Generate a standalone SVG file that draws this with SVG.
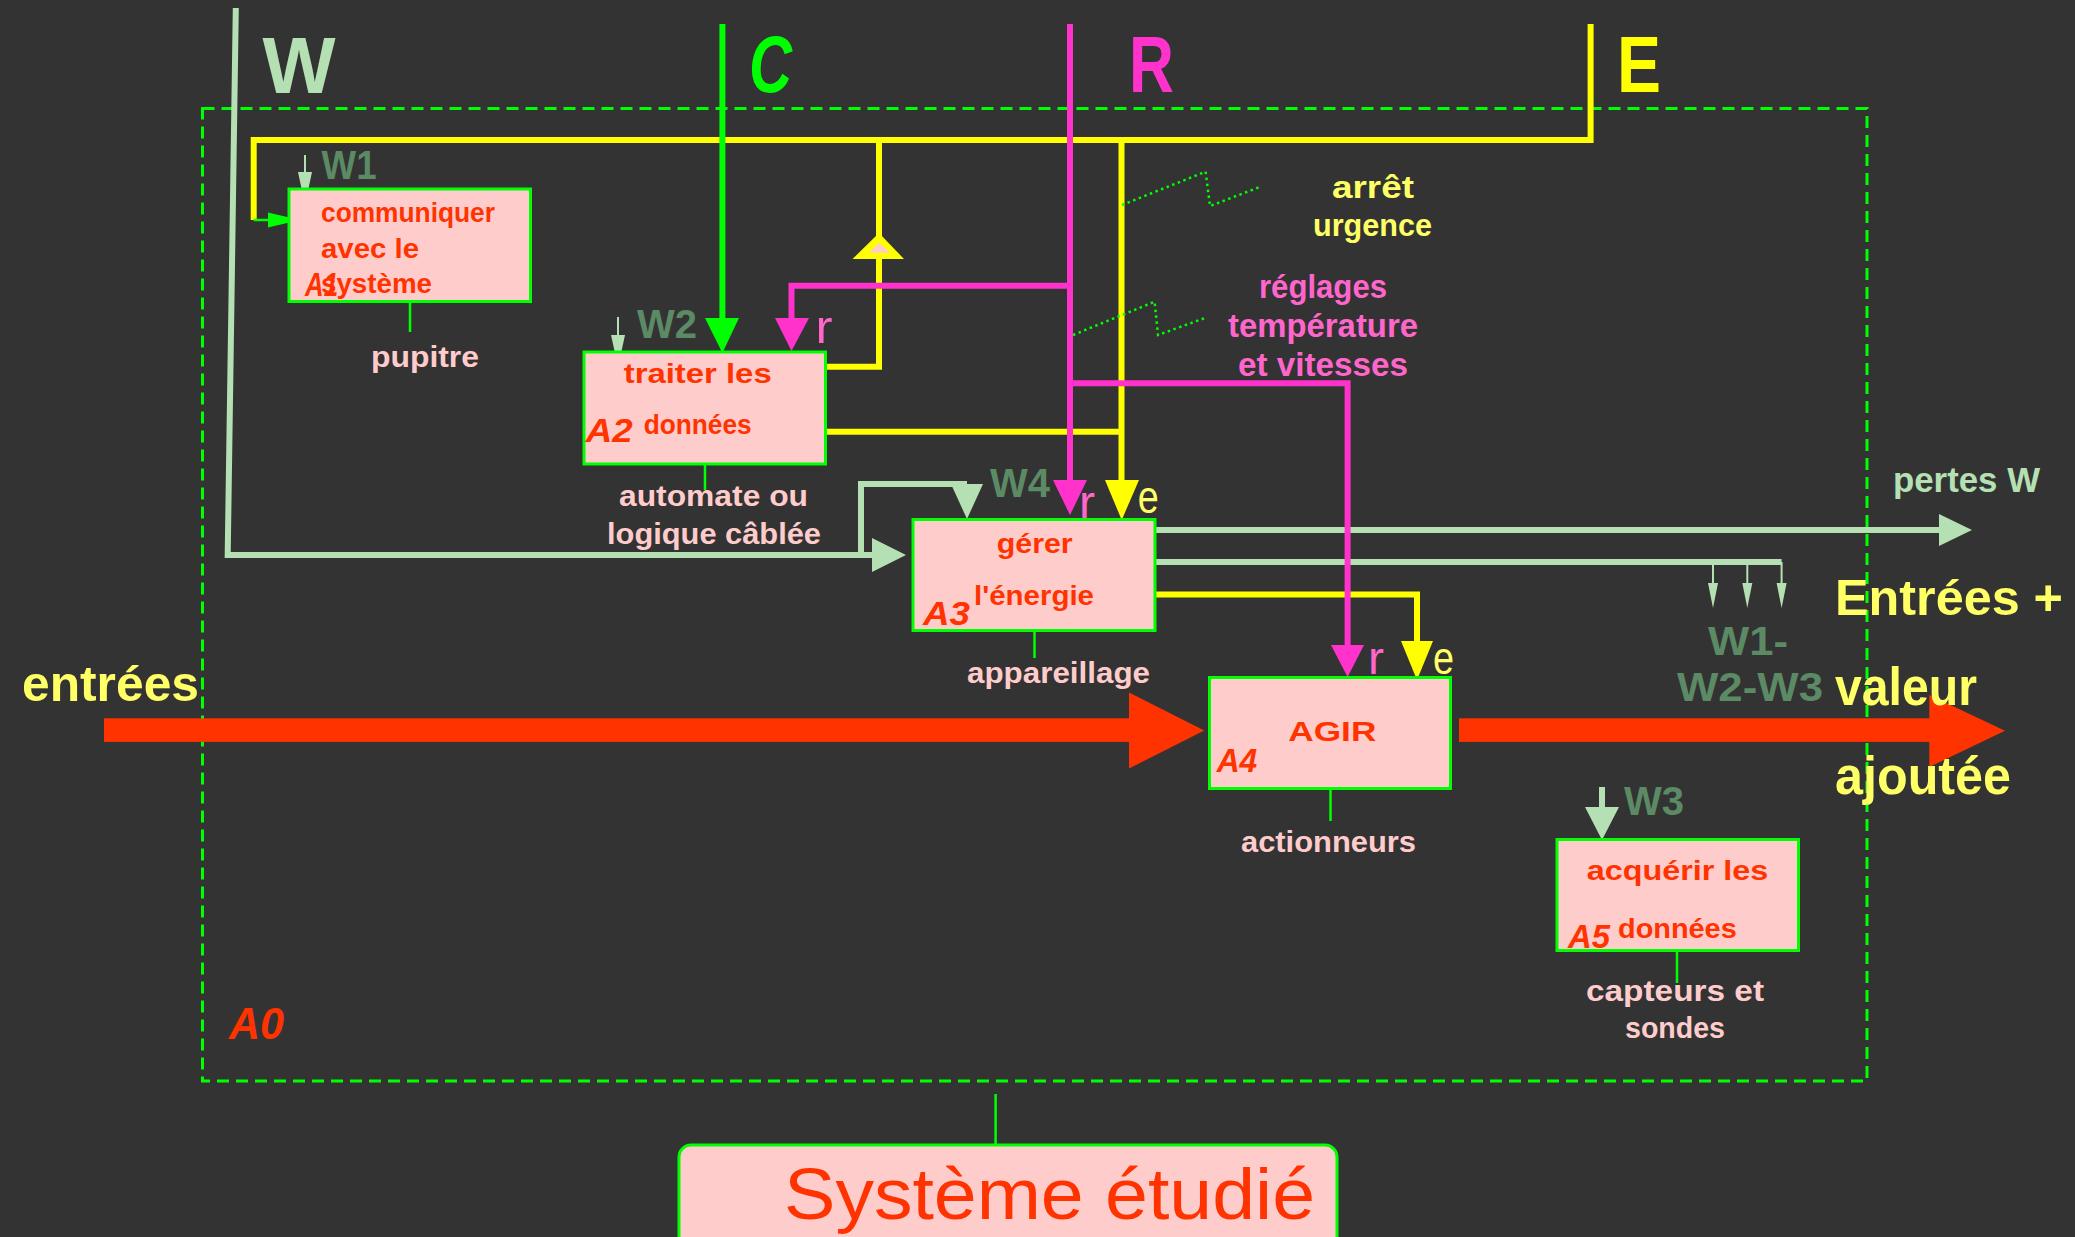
<svg xmlns="http://www.w3.org/2000/svg" width="2075" height="1237" viewBox="0 0 2075 1237">
  <style>
    text { font-family: "Liberation Sans", Arial, sans-serif; }
    .box { fill: #ffcccc; stroke: #00ff00; stroke-width: 3; }
    .bt { font-size: 28px; font-weight: bold; fill: #ff3300; }
    .an { font-size: 34px; font-weight: bold; font-style: italic; fill: #ff3300; }
    .lbl { font-size: 30px; font-weight: bold; fill: #ffcccc; }
    .wl { font-size: 40px; font-weight: bold; fill: #5b8a65; }
    .big { font-size: 80px; font-weight: bold; }
    .ye { fill: #ffff66; font-weight: bold; }
    .pk { fill: #ff66cc; font-weight: bold; }
    .re { font-size: 46px; }
    .yl { fill: none; stroke: #ffff00; stroke-width: 6; }
    .mg { fill: none; stroke: #ff33cc; stroke-width: 6; }
    .gn { fill: none; stroke: #00ff00; stroke-width: 6; }
    .lg { fill: none; stroke: #b4e0b4; stroke-width: 6; }
    .thin { fill: none; stroke: #b4e0b4; stroke-width: 2; }
    .mech { fill: none; stroke: #00ff00; stroke-width: 2.5; }
    .dot { fill: none; stroke: #00ff00; stroke-width: 2.5; stroke-dasharray: 2.5 3.5; }
  </style>

  <rect width="2075" height="1237" fill="#333333"/>

  <!-- A0 frame -->
  <rect x="202.5" y="108.5" width="1664.5" height="972.5" fill="none" stroke="#00ff00" stroke-width="3" stroke-dasharray="12 7"/>

  <g id="connectors">
    <!-- yellow energy E -->
    <path class="yl" d="M1590.6 24 V140 H253.7 V220"/>
    <path d="M253.7 220 H270" fill="none" stroke="#00ff00" stroke-width="2.5"/>
    <polygon points="268,212.5 268,227.5 300,220" fill="#00ff00"/>
    <path class="yl" d="M1121.5 140 V484"/>
    <polygon points="1105,480 1139,480 1121.7,520" fill="#ffff00"/>
    <path class="yl" d="M826 366.7 H879 V140"/>
    <polygon points="879,233 852.5,259 904,259" fill="#ffff00"/>
    <polygon points="879,242.7 869.3,252.7 890,252.7" fill="#ffcccc"/>
    <path class="yl" d="M826 431.7 H1121.5"/>
    <path class="yl" d="M1155 594.5 H1417 V645"/>
    <polygon points="1401,641 1433,641 1417,680" fill="#ffff00"/>

    <!-- light green W -->
    <path class="lg" d="M235.8 8 L227.7 555 H874"/>
    <polygon points="872,538 872,572 906,555" fill="#b4e0b4"/>
    <path class="lg" d="M861 555 V484 H967"/>
    <polygon points="951,484 983,484 967,519" fill="#b4e0b4"/>
    <path class="lg" d="M1155 530 H1941" stroke-width="7"/>
    <polygon points="1939,514 1939,546 1972,530" fill="#b4e0b4"/>
    <path class="lg" d="M1155 562 H1781.6"/>
    <path class="thin" d="M1713 562 V588 M1747.3 562 V588 M1781.6 562 V588"/>
    <polygon points="1708,583 1718,583 1713,608" fill="#b4e0b4"/>
    <polygon points="1742.3,583 1752.3,583 1747.3,608" fill="#b4e0b4"/>
    <polygon points="1776.6,583 1786.6,583 1781.6,608" fill="#b4e0b4"/>
    <path class="thin" d="M305 155 V175"/>
    <polygon points="298,172 312,172 305,205" fill="#b4e0b4"/>
    <path class="thin" d="M618 317 V337"/>
    <polygon points="611,335 625,335 618,367" fill="#b4e0b4"/>
    <path class="lg" d="M1602 787 V809"/>
    <polygon points="1585,807 1619,807 1602,840" fill="#b4e0b4"/>

    <!-- green control C -->
    <path class="gn" d="M722.4 24 V320"/>
    <polygon points="705,318 739,318 722.4,353" fill="#00ff00"/>

    <!-- magenta settings R -->
    <path class="mg" d="M1070 24 V482"/>
    <polygon points="1053,480 1087,480 1070,515" fill="#ff33cc"/>
    <path class="mg" d="M1070 285.7 H791.5 V320"/>
    <polygon points="775,318 809,318 791.5,351" fill="#ff33cc"/>
    <path class="mg" d="M1070 383.3 H1347.6 V647"/>
    <polygon points="1331,645 1364,645 1347.6,677" fill="#ff33cc"/>

    <!-- operator links (dotted) -->
    <path class="dot" d="M1122 205 L1205.6 171.7 L1210 206 L1259 187.3"/>
    <path class="dot" d="M1073 335 L1154.6 301.7 L1158 335 L1207 317.3"/>

    <!-- main flow -->
    <rect x="104" y="718.3" width="1026" height="23.6" fill="#ff3300"/>
    <polygon points="1129,692.5 1129,768.5 1204.3,730.6" fill="#ff3300"/>
    <rect x="1459" y="718.3" width="471" height="23.6" fill="#ff3300"/>
    <polygon points="1929.3,695 1929.3,767 2005,730.7" fill="#ff3300"/>

    <!-- mechanism links -->
    <path class="mech" d="M410 302 V332 M705 464 V490 M1034.5 631 V658 M1330.5 789 V821 M1677 951 V983 M995.6 1094 V1145"/>
  </g>

  <!-- flow labels -->
  <text class="big" x="262.6" y="93" textLength="73" lengthAdjust="spacingAndGlyphs" fill="#b4e0b4">W</text>
  <text class="big" x="749" y="92" textLength="43" lengthAdjust="spacingAndGlyphs" fill="#00ff00" font-style="italic">C</text>
  <text class="big" x="1129" y="92" textLength="45" lengthAdjust="spacingAndGlyphs" fill="#ff33cc">R</text>
  <text class="big" x="1617" y="92" textLength="44" lengthAdjust="spacingAndGlyphs" fill="#ffff00">E</text>

  <text class="wl" x="321.6" y="179" textLength="55" lengthAdjust="spacingAndGlyphs">W1</text>
  <text class="wl" x="637" y="338" textLength="60" lengthAdjust="spacingAndGlyphs">W2</text>
  <text class="wl" x="990" y="497" textLength="60" lengthAdjust="spacingAndGlyphs">W4</text>
  <text class="wl" x="1624" y="815" textLength="60" lengthAdjust="spacingAndGlyphs">W3</text>
  <text class="wl" x="1708" y="655" textLength="80" lengthAdjust="spacingAndGlyphs">W1-</text>
  <text class="wl" x="1677" y="701" textLength="146" lengthAdjust="spacingAndGlyphs">W2-W3</text>

  <text class="re" x="815.6" y="343" fill="#ff66cc" textLength="17" lengthAdjust="spacingAndGlyphs">r</text>
  <text class="re" x="1079" y="518" fill="#ff66cc" textLength="16" lengthAdjust="spacingAndGlyphs">r</text>
  <text class="re" x="1368" y="674" fill="#ff66cc" textLength="16" lengthAdjust="spacingAndGlyphs">r</text>
  <text class="re" x="1137.7" y="513" fill="#ffff66" textLength="21" lengthAdjust="spacingAndGlyphs">e</text>
  <text class="re" x="1433" y="674" fill="#ffff66" textLength="21" lengthAdjust="spacingAndGlyphs">e</text>

  <text class="ye" x="1332" y="198" font-size="32" textLength="82" lengthAdjust="spacingAndGlyphs">arrêt</text>
  <text class="ye" x="1313" y="236" font-size="32" textLength="119" lengthAdjust="spacingAndGlyphs">urgence</text>
  <text class="pk" x="1259" y="298" font-size="33" textLength="128" lengthAdjust="spacingAndGlyphs">réglages</text>
  <text class="pk" x="1228" y="337" font-size="33" textLength="190" lengthAdjust="spacingAndGlyphs">température</text>
  <text class="pk" x="1238" y="376" font-size="33" textLength="170" lengthAdjust="spacingAndGlyphs">et vitesses</text>

  <text x="1893" y="492" font-size="35" font-weight="bold" fill="#b4e0b4" textLength="147" lengthAdjust="spacingAndGlyphs">pertes W</text>

  <text class="ye" x="22" y="701" font-size="50" textLength="177" lengthAdjust="spacingAndGlyphs">entrées</text>
  <text class="ye" x="1835" y="615" font-size="50" textLength="228" lengthAdjust="spacingAndGlyphs">Entrées +</text>
  <text class="ye" x="1835" y="705" font-size="54" textLength="142" lengthAdjust="spacingAndGlyphs">valeur</text>
  <text class="ye" x="1835" y="794" font-size="54" textLength="176" lengthAdjust="spacingAndGlyphs">ajoutée</text>

  <text x="229" y="1039" font-size="44" font-weight="bold" font-style="italic" fill="#ff3300" textLength="55" lengthAdjust="spacingAndGlyphs">A0</text>

  <g id="A1">
    <rect class="box" x="289" y="189" width="241.5" height="112.5"/>
    <text class="bt" x="321" y="222" textLength="174" lengthAdjust="spacingAndGlyphs">communiquer</text>
    <text class="bt" x="321" y="258" textLength="98" lengthAdjust="spacingAndGlyphs">avec le</text>
    <text class="bt" x="321" y="293" textLength="111" lengthAdjust="spacingAndGlyphs">système</text>
    <text class="an" x="305" y="296" font-size="32" textLength="33" lengthAdjust="spacingAndGlyphs">A1</text>
    <text class="lbl" x="371" y="367" textLength="108" lengthAdjust="spacingAndGlyphs">pupitre</text>
  </g>

  <g id="A2">
    <rect class="box" x="584" y="352" width="241.5" height="112"/>
    <text class="bt" x="623.7" y="382.7" textLength="148" lengthAdjust="spacingAndGlyphs">traiter les</text>
    <text class="bt" x="643.7" y="434" textLength="108" lengthAdjust="spacingAndGlyphs">données</text>
    <text class="an" x="585.7" y="442" font-size="37" textLength="47" lengthAdjust="spacingAndGlyphs">A2</text>
    <text class="lbl" x="619" y="506" textLength="189" lengthAdjust="spacingAndGlyphs">automate ou</text>
    <text class="lbl" x="607" y="544" textLength="214" lengthAdjust="spacingAndGlyphs">logique câblée</text>
  </g>

  <g id="A3">
    <rect class="box" x="913" y="519.5" width="242" height="111"/>
    <text class="bt" x="996.7" y="553" textLength="76" lengthAdjust="spacingAndGlyphs">gérer</text>
    <text class="bt" x="974" y="605" textLength="120" lengthAdjust="spacingAndGlyphs">l'énergie</text>
    <text class="an" x="923" y="625" font-size="36" textLength="47" lengthAdjust="spacingAndGlyphs">A3</text>
    <text class="lbl" x="967" y="683" textLength="183" lengthAdjust="spacingAndGlyphs">appareillage</text>
  </g>

  <g id="A4">
    <rect class="box" x="1209.5" y="677.5" width="241" height="111"/>
    <text class="bt" x="1288.3" y="740.7" font-size="34" textLength="88" lengthAdjust="spacingAndGlyphs">AGIR</text>
    <text class="an" x="1216.7" y="771.7" font-size="31" textLength="40.6" lengthAdjust="spacingAndGlyphs">A4</text>
    <text class="lbl" x="1241" y="852" textLength="175" lengthAdjust="spacingAndGlyphs">actionneurs</text>
  </g>

  <g id="A5">
    <rect class="box" x="1557" y="839.5" width="241.5" height="111"/>
    <text class="bt" x="1586.7" y="880" textLength="181.6" lengthAdjust="spacingAndGlyphs">acquérir les</text>
    <text class="bt" x="1618" y="938.3" font-size="30" textLength="118.7" lengthAdjust="spacingAndGlyphs">données</text>
    <text class="an" x="1568" y="948" font-size="32" textLength="42" lengthAdjust="spacingAndGlyphs">A5</text>
    <text class="lbl" x="1586" y="1001" textLength="178" lengthAdjust="spacingAndGlyphs">capteurs et</text>
    <text class="lbl" x="1625" y="1038" textLength="100" lengthAdjust="spacingAndGlyphs">sondes</text>
  </g>

  <g id="systeme">
    <rect class="box" x="679" y="1145" width="658" height="130" rx="12"/>
    <text x="784" y="1219" font-size="72" fill="#ff3300" textLength="531" lengthAdjust="spacingAndGlyphs">Système étudié</text>
  </g>
</svg>
